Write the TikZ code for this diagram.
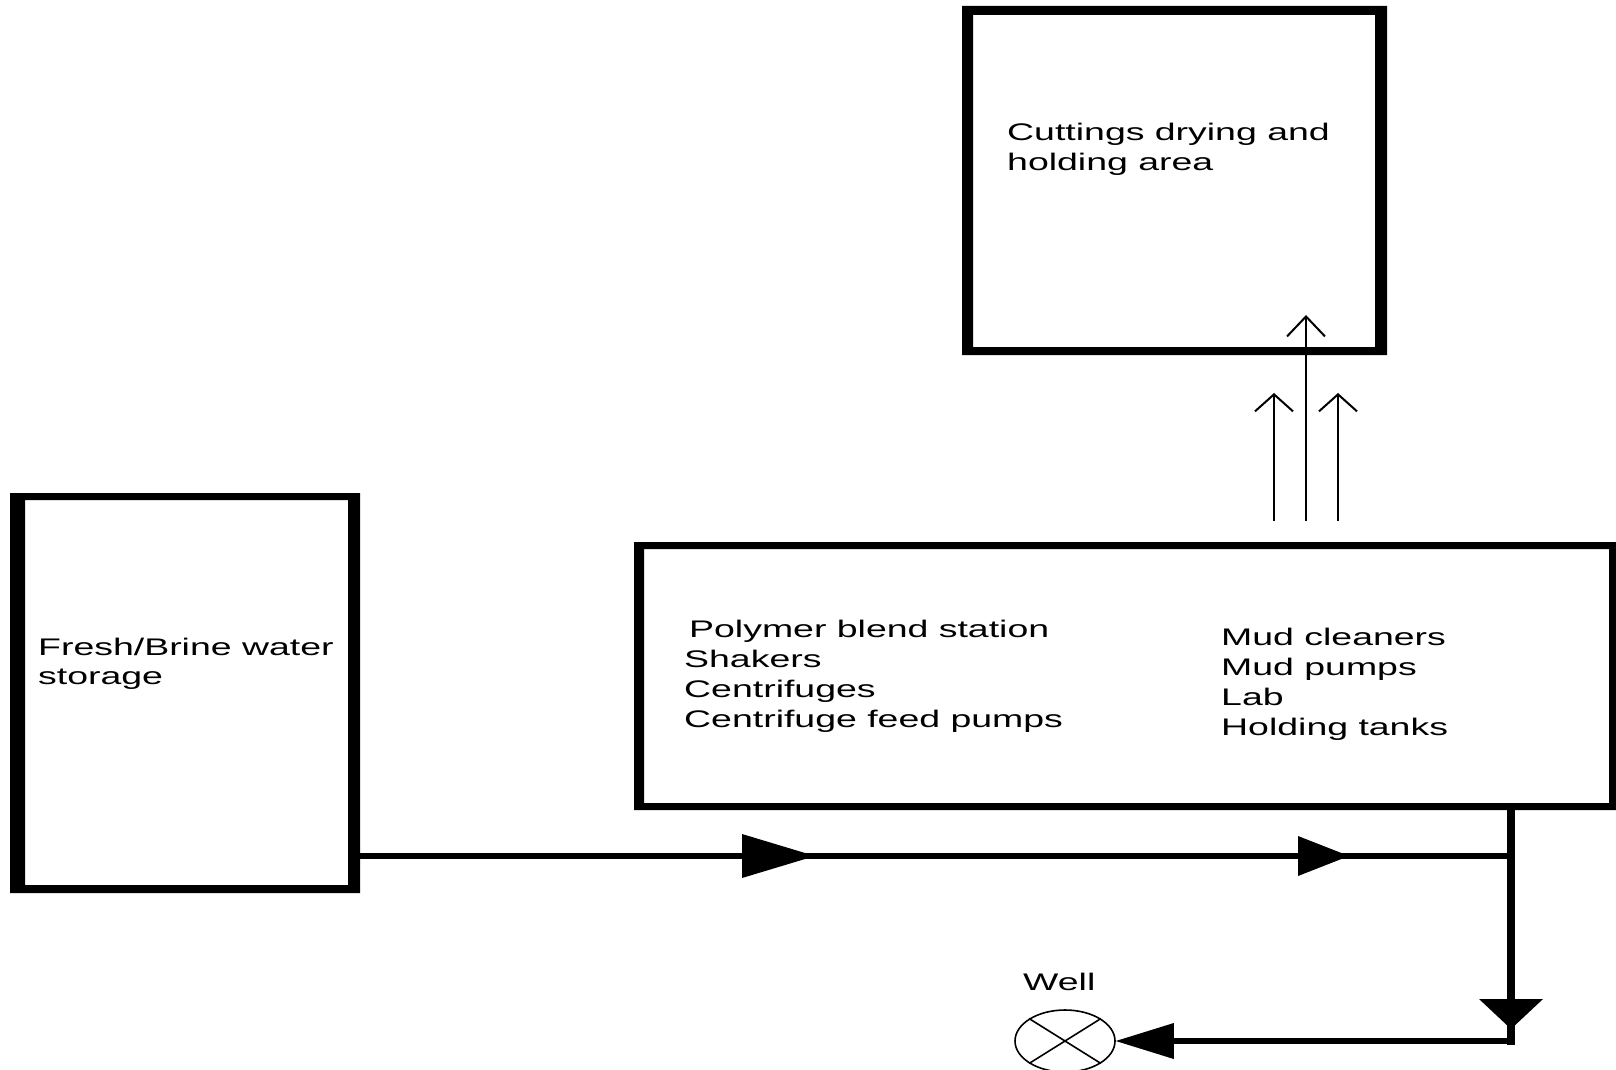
\documentclass[tikz,border=0pt]{standalone}
\usepackage{fontspec}
\setmainfont{Liberation Sans}
\newfontfamily\widefont[FakeStretch=1.56]{Liberation Sans}
\usetikzlibrary{arrows.meta,decorations.markings,shapes.geometric}
\newcommand\frameit[5]{\fill[even odd rule] (#1.north west) rectangle (#1.south east) ([xshift=#2pt,yshift=-#3pt]#1.north west) rectangle ([xshift=-#4pt,yshift=#5pt]#1.south east);}
\begin{document}
\begin{tikzpicture}[x=1pt,y=-1pt,
  lbl/.style={font=\widefont\fontsize{24}{30}\selectfont, inner sep=0pt, anchor=base west},
  area/.style={rectangle, inner sep=0pt, outer sep=0pt, anchor=north west},
  flow/.style={line width=6pt},
  upflow/.style={line width=2pt, -{Straight Barb[length=#1pt, width=38pt, line width=2pt]}}
]
\useasboundingbox (0,0) rectangle (1616,1070);

% boxes
\node[area, minimum width=425pt, minimum height=349pt] (cut) at (962,6) {};
\node[area, minimum width=350pt, minimum height=400pt] (fresh) at (10,493) {};
\node[area, minimum width=982pt, minimum height=268pt] (poly) at (634,542) {};
\frameit{cut}{11}{9}{12}{8}
\frameit{fresh}{15}{7}{12}{8}
\frameit{poly}{10}{7}{7}{7}

% labels
\node[lbl] (c1) at (1007,140) {Cuttings drying and};
\node[lbl] (c2) at (1007,170) {holding area};
\node[lbl] (f1) at (38,655) {Fresh/Brine water};
\node[lbl] (f2) at (38,684) {storage};
\node[lbl] (p1) at (689,637) {Polymer blend station};
\node[lbl] (p2) at (684,667) {Shakers};
\node[lbl] (p3) at (684,697) {Centrifuges};
\node[lbl] (p4) at (684,727) {Centrifuge feed pumps};
\node[lbl] (m1) at (1221,645) {Mud cleaners};
\node[lbl] (m2) at (1221,675) {Mud pumps};
\node[lbl] (m3) at (1221,705) {Lab};
\node[lbl] (m4) at (1221,735) {Holding tanks};

% well
\node[ellipse, draw, line width=1.6pt, minimum width=100pt, minimum height=62pt, inner sep=0pt] (well) at (1065,1041) {};
\draw[line width=1.6pt] (well.32) -- (well.212) (well.148) -- (well.328);
\node[lbl] (welllbl) at (1023,990) {Well};

% flow lines
\coordinate (jn) at (1511,856);
\coordinate (corner) at (1511,1041);
\draw[flow, postaction={decorate}, decoration={markings,
   mark=at position 455pt with {\arrow{Triangle[length=73pt,width=44pt,line width=0pt]}},
   mark=at position 989pt with {\arrow{Triangle[length=51pt,width=40pt,line width=0pt]}}}]
  (fresh.east |- jn) -- ([xshift=3pt]jn);
\draw[line width=8pt, postaction={decorate}, decoration={markings,
   mark=at position 219pt with {\arrow{Triangle[length=30pt,width=64pt,line width=0pt]}}}]
  (poly.south -| corner) -- ([yshift=-4pt]corner);
\draw[flow, -{Triangle[length=58pt,width=36pt,line width=0pt]}] ([xshift=4pt]corner) -- (well.east);

% upward arrows
\coordinate (ua1) at (1274,521);
\coordinate (ua2) at (1306,521);
\coordinate (ua3) at (1338,521);
\coordinate (ut1) at (1274,393);
\coordinate (ut2) at (1306,315);
\coordinate (ut3) at (1338,393);
\draw[upflow=17] (ua1) -- (ut1);
\draw[upflow=20] (ua2) -- (ut2);
\draw[upflow=17] (ua3) -- (ut3);
\end{tikzpicture}
\end{document}
